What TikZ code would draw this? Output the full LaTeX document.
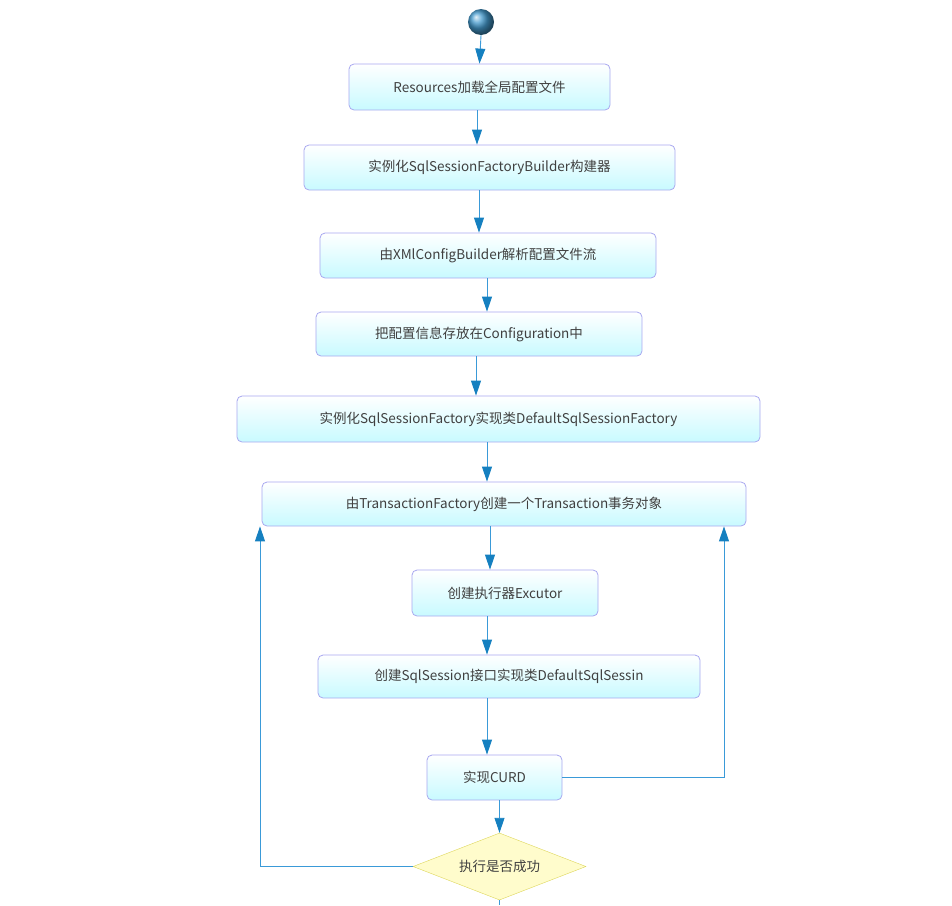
\documentclass[tikz,border=0pt]{standalone}
\usepackage{fontspec}
\setmainfont{Noto Sans CJK SC}
\usetikzlibrary{shapes.geometric,arrows.meta,shadings}
\definecolor{bord}{HTML}{A8A8F0}
\definecolor{cy}{HTML}{C8FAFF}
\definecolor{ln}{HTML}{3A9AD8}
\definecolor{tip}{HTML}{1580C0}
\begin{document}
\begin{tikzpicture}[x=1pt,y=-1pt,
 box/.style={draw=bord,line width=0.8pt,rounded corners=5pt,left color=white,right color=cy,shading angle=0,font=\fontsize{13.5}{15}\selectfont,text=black!75,inner sep=0pt},
 arr/.style={draw=ln,line width=0.9pt,-{Triangle[length=15pt,width=10pt,fill=tip,color=tip]}}]
\useasboundingbox (0,0) rectangle (952,905);
\shade[ball color=tip!80] (481,22) circle (13);
\node (s) [circle,minimum size=26pt,inner sep=0pt] at (481,22) {};
\node (b1)[box,minimum width=261pt,minimum height=46pt] at (479.5,87) {Resources加载全局配置文件};
\node (b2)[box,minimum width=371pt,minimum height=45pt] at (489.5,167.5) {实例化SqlSessionFactoryBuilder构建器};
\node (b3)[box,minimum width=336pt,minimum height=45pt] at (488,255.5) {由XMlConfigBuilder解析配置文件流};
\node (b4)[box,minimum width=326pt,minimum height=44pt] at (479,334) {把配置信息存放在Configuration中};
\node (b5)[box,minimum width=523pt,minimum height=46pt] at (498.5,419) {实例化SqlSessionFactory实现类DefaultSqlSessionFactory};
\node (b6)[box,minimum width=484pt,minimum height=44pt] at (504,504) {由TransactionFactory创建一个Transaction事务对象};
\node (b7)[box,minimum width=186pt,minimum height=46pt] at (505,593) {创建执行器Excutor};
\node (b8)[box,minimum width=382pt,minimum height=43pt] at (509,676.5) {创建SqlSession接口实现类DefaultSqlSessin};
\node (b9)[box,minimum width=135pt,minimum height=45pt] at (494.5,777.5) {实现CURD};
\node (d)[diamond,draw=yellow!50!olive!60,fill=yellow!20,aspect=2.6,minimum width=173pt,minimum height=67pt,inner sep=0pt,font=\fontsize{13.5}{15}\selectfont,text=black!75] at (499.5,866.5) {执行是否成功};
\coordinate (e) at (499.5,905);
\draw[arr] (s.south) -- (b1.north);
\draw[arr] (b1.south -| 477,0) -- (b2.north -| 477,0);
\draw[arr] (b2.south -| 479,0) -- (b3.north -| 479,0);
\draw[arr] (b3.south -| 487,0) -- (b4.north -| 487,0);
\draw[arr] (b4.south -| 476,0) -- (b5.north -| 476,0);
\draw[arr] (b5.south -| 487,0) -- (b6.north -| 487,0);
\draw[arr] (b6.south -| 490,0) -- (b7.north -| 490,0);
\draw[arr] (b7.south -| 487,0) -- (b8.north -| 487,0);
\draw[arr] (b8.south -| 487,0) -- (b9.north -| 487,0);
\draw[arr] (b9.south -| 499.5,0) -- (d.north);
\draw[draw=ln,line width=0.9pt] (d.south) -- (e);
\draw[arr] (d.west) -| (b6.south -| 260,0);
\draw[arr] (b9.east) -| (b6.south -| 724,0);
\end{tikzpicture}
\end{document}
